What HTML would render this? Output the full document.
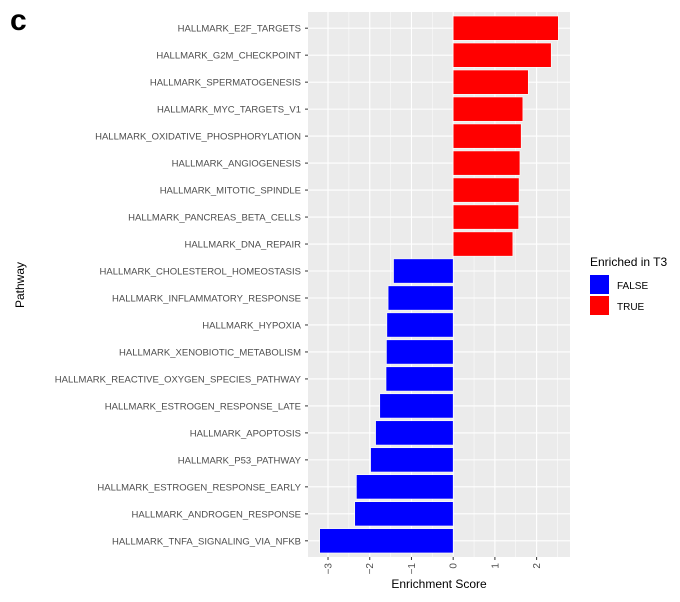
<!DOCTYPE html>
<html><head><meta charset="utf-8"><style>
body{margin:0;background:#fff;}
svg{display:block;font-family:"Liberation Sans",Arial,sans-serif;}
</style></head><body>
<svg id="chart" width="680" height="602">
<text x="10" y="30" font-size="30" font-weight="bold" fill="#000">c</text>
<g id="panel"></g>
<g id="yaxis"></g>
<g id="xaxis"></g>
<text x="439" y="588" font-size="12" fill="#000" text-anchor="middle">Enrichment Score</text>
<text transform="translate(24,285) rotate(-90)" font-size="12" fill="#000" text-anchor="middle">Pathway</text>
<g>
<text x="590" y="266" font-size="12" fill="#000">Enriched in T3</text>
<rect x="590" y="275" width="19" height="19" fill="#0000ff"/>
<text x="617" y="289" font-size="10" fill="#000">FALSE</text>
<rect x="590" y="296" width="19" height="19" fill="#ff0000"/>
<text x="617" y="310" font-size="10" fill="#000">TRUE</text>
</g>
</svg>
<script>
const pathways=["HALLMARK_E2F_TARGETS","HALLMARK_G2M_CHECKPOINT","HALLMARK_SPERMATOGENESIS","HALLMARK_MYC_TARGETS_V1","HALLMARK_OXIDATIVE_PHOSPHORYLATION","HALLMARK_ANGIOGENESIS","HALLMARK_MITOTIC_SPINDLE","HALLMARK_PANCREAS_BETA_CELLS","HALLMARK_DNA_REPAIR","HALLMARK_CHOLESTEROL_HOMEOSTASIS","HALLMARK_INFLAMMATORY_RESPONSE","HALLMARK_HYPOXIA","HALLMARK_XENOBIOTIC_METABOLISM","HALLMARK_REACTIVE_OXYGEN_SPECIES_PATHWAY","HALLMARK_ESTROGEN_RESPONSE_LATE","HALLMARK_APOPTOSIS","HALLMARK_P53_PATHWAY","HALLMARK_ESTROGEN_RESPONSE_EARLY","HALLMARK_ANDROGEN_RESPONSE","HALLMARK_TNFA_SIGNALING_VIA_NFKB"];
const scores=[2.52,2.35,1.8,1.67,1.63,1.6,1.58,1.57,1.43,-1.43,-1.56,-1.59,-1.6,-1.61,-1.76,-1.86,-1.98,-2.32,-2.36,-3.2];
const xTicks=[-3,-2,-1,0,1,2];
const xTickLabels=["-3","-2","-1","0","1","2"];
const NS="http://www.w3.org/2000/svg";
const PL=308,PR=570,PT=12,PB=557;
const XMIN=-3.48,XMAX=2.8;
const x=v=>PL+(v-XMIN)/(XMAX-XMIN)*(PR-PL);
const band=(PB-PT)/(pathways.length+0.2);
const y=i=>PT+band*0.6+i*band;
function mk(tag,attrs,parent){const e=document.createElementNS(NS,tag);for(const k in attrs)e.setAttribute(k,attrs[k]);parent.appendChild(e);return e;}
const panel=document.getElementById('panel'),ya=document.getElementById('yaxis'),xa=document.getElementById('xaxis');
const bg=mk('rect',{x:PL,y:PT,width:PR-PL,height:PB-PT,fill:'#ebebeb'},panel);


for(let v=Math.ceil(XMIN*2)/2;v<=XMAX;v+=0.5){
  const major=xTicks.includes(v);
  const g=mk('line',{x1:x(v),x2:x(v),y1:PT,y2:PB,stroke:'#fff','stroke-width':major?1.1:0.5},panel);
  
  
}
pathways.forEach((p,i)=>{
  const g=mk('line',{x1:PL,x2:PR,y1:y(i),y2:y(i),stroke:'#fff','stroke-width':1.1},panel);
  
  
});
pathways.forEach((p,i)=>{
  const v=scores[i],h=band*0.9;
  const r=mk('rect',{x:Math.min(x(0),x(v)),y:y(i)-h/2,width:Math.abs(x(v)-x(0)),height:h,fill:v>0?'#ff0000':'#0000ff',stroke:'#fff','stroke-width':0.6},panel);
  
  
  const t=mk('text',{x:PL-7,y:y(i)+3.5,'font-size':9.5,fill:'#4d4d4d','text-anchor':'end'},ya);
  t.textContent=p;
  
  
  const tk=mk('line',{x1:PL-3,x2:PL,y1:y(i),y2:y(i),stroke:'#333','stroke-width':1},ya);
  
  
});
xTicks.forEach((v,i)=>{
  const tk=mk('line',{x1:x(v),x2:x(v),y1:PB,y2:PB+3,stroke:'#333','stroke-width':1},xa);
  
  
  const t=mk('text',{transform:`translate(${x(v)+3.5},${PB+6}) rotate(-90)`,'font-size':10,fill:'#4d4d4d','text-anchor':'end'},xa);
  t.textContent=xTickLabels[i].replace('-','\u2212');
  
  
});
</script>
</body></html>
